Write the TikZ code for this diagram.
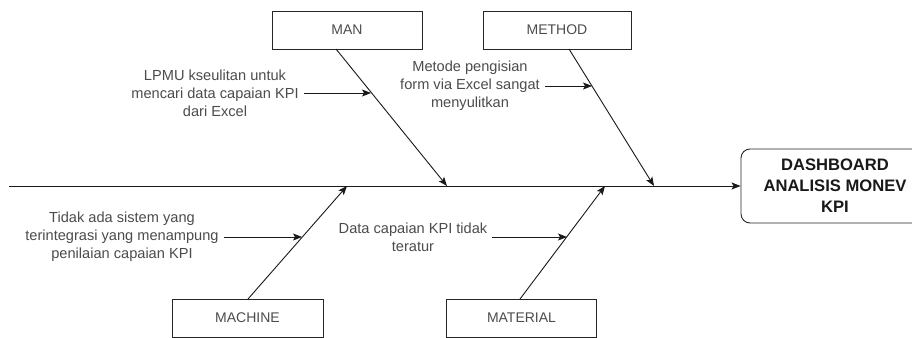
\documentclass[tikz,border=0pt]{standalone}
\usepackage{fontspec}
\setmainfont{Liberation Sans}
\usetikzlibrary{arrows.meta}
\tikzset{
  catbox/.style={draw=black!85, line width=0.9pt, minimum height=38pt, inner sep=0pt, text=black!70, font=\fontsize{14}{16}\selectfont},
  causetext/.style={align=center, inner sep=5pt, text=black!70, font=\fontsize{14.6}{18}\selectfont},
  bone/.style={draw=black!90, line width=0.9pt, -{Stealth[length=9pt,width=7pt,inset=2pt]}},
  effectbox/.style={draw=black!85, line width=0.9pt, rounded corners=9pt, minimum width=188pt, minimum height=74pt, align=center, font=\fontsize{16.6}{21}\selectfont\bfseries, text=black!90}
}
\begin{document}
\begin{tikzpicture}[x=1pt,y=-1pt]
\clip (0,0) rectangle (912,337);
\fill[white] (0,0) rectangle (912,337);
% category boxes
\node[catbox, minimum width=150pt] (man) at (347,30) {MAN};
\node[catbox, minimum width=148pt] (method) at (557,30) {METHOD};
\node[catbox, minimum width=151pt] (machine) at (247.5,318) {MACHINE};
\node[catbox, minimum width=150pt] (material) at (521.5,318) {MATERIAL};
\node[effectbox] (effect) at (835,186) {DASHBOARD\\ANALISIS MONEV\\KPI};
% spine
\coordinate (tail) at (9,186);
\draw[bone] (tail) -- (effect.west);
% bone end points
\coordinate (manA) at (336,49);
\coordinate (manB) at (447,186);
\coordinate (metA) at (569,49);
\coordinate (metB) at (654,186);
\coordinate (macA) at (248,299);
\coordinate (macB) at (347,186);
\coordinate (matA) at (520,299);
\coordinate (matB) at (605,186);
\draw[bone] (manA) -- (manB);
\draw[bone] (metA) -- (metB);
\draw[bone] (macA) -- (macB);
\draw[bone] (matA) -- (matB);
% cause texts
\node[causetext] (c1) at (215,93) {LPMU kseulitan untuk\\mencari data capaian KPI\\dari Excel};
\node[causetext] (c2) at (470,86) {Metode pengisian\\form via Excel sangat\\menyulitkan};
\node[causetext] (c3) at (122,237) {Tidak ada sistem yang\\terintegrasi yang menampung\\penilaian capaian KPI};
\node[causetext] (c4) at (413,237) {Data capaian KPI tidak\\teratur};
\coordinate (p1) at (371,93);
\coordinate (p2) at (592,86);
\coordinate (p3) at (302,237);
\coordinate (p4) at (567,237);
\draw[bone] (c1.east) -- (p1);
\draw[bone] (c2.east) -- (p2);
\draw[bone] (c3.east) -- (p3);
\draw[bone] (c4.east) -- (p4);
\end{tikzpicture}
\end{document}
